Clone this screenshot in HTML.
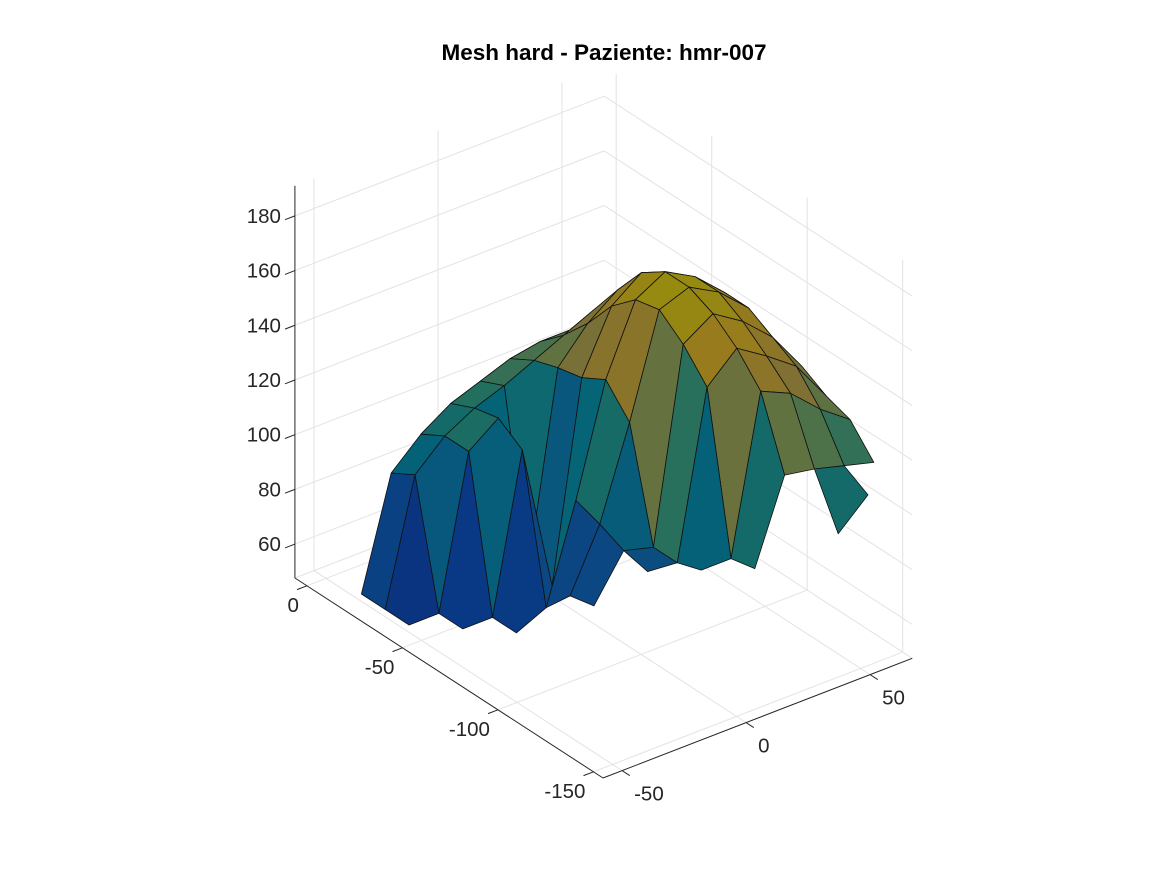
<!DOCTYPE html>
<html><head><meta charset="utf-8"><style>
body{margin:0;background:#fff;}
svg{display:block;font-family:"Liberation Sans",Arial,sans-serif;}
</style></head><body>
<svg id="chart" width="1167" height="875" viewBox="0 0 1167 875" xmlns="http://www.w3.org/2000/svg">
<rect width="1167" height="875" fill="#fff"/>
<text x="604" y="60" text-anchor="middle" font-size="22.5" font-weight="bold" fill="#000">Mesh hard - Paziente: hmr-007</text>
<g id="grid"></g>
<g id="surface"></g>
<g id="axes"></g>
</svg>
<script>
const xTicks = [0, -50, -100, -150];
const yTicks = [-50, 0, 50];
const zTicks = [60, 80, 100, 120, 140, 160, 180];
const xGrid = [0, -12.5, -25, -37.5, -50, -62.5, -75, -87.5, -100, -112.5, -125, -137.5, -150];
const yGrid = [-55, -43, -31, -19, -7, 5, 17, 29, 41, 53, 65];
const n = null;
const zRows = [
 [n, n, n, n, n, n, n, n, n, n, n],
 [n, n, 80, 92, 100, 105, 108, 105, n, n, n],
 [55, 95, 105, 112, 116, 120, 122, 122, 115, n, n],
 [55, 100, 110, 116, 120, 125, 130, 135, 130, n, n],
 [55, 55, 110, 118, 58, 128, 140, 148, 145, 135, n],
 [n, 55, 55, 112, 58, 130, 152, 160, 155, 145, n],
 [n, n, 55, 60, 95, 135, 160, 166, 160, 150, 125],
 [n, n, n, 70, 92, 125, 162, 166, 160, 150, 132],
 [n, n, n, 72, 88, 85, 155, 162, 155, 145, 130],
 [n, n, n, n, 86, 85, 145, 155, 148, 140, 125],
 [n, n, n, n, n, 88, 88, 145, 140, 130, 122],
 [n, n, n, n, n, n, 90, 120, 118, 115, 112],
 [n, n, n, n, n, n, n, n, 100, 110, n]
];
const lim = {xmin:-155, xmax:6.3, ymin:-57.7, ymax:67, zmin:47.6, zmax:191};
const O = [603, 778], EX = [-1.91, -1.24], EY = [2.48, -0.96], EZ = -2.735;
function P(x, y, z) {
  const a = x - lim.xmin, b = y - lim.ymin, c = z - lim.zmin;
  return [O[0] + a*EX[0] + b*EY[0], O[1] + a*EX[1] + b*EY[1] + c*EZ];
}
const NS = "http://www.w3.org/2000/svg";
function line(g, p, q, col, w, name) {
  const l = document.createElementNS(NS, "line");
  l.setAttribute("x1", p[0]); l.setAttribute("y1", p[1]);
  l.setAttribute("x2", q[0]); l.setAttribute("y2", q[1]);
  l.setAttribute("stroke", col); l.setAttribute("stroke-width", w);
  
  
  g.appendChild(l);
}
function text(g, x, y, s, anchor, name) {
  const t = document.createElementNS(NS, "text");
  t.setAttribute("x", x); t.setAttribute("y", y);
  t.setAttribute("text-anchor", anchor); t.setAttribute("font-size", "20.5");
  t.setAttribute("fill", "#262626"); t.textContent = s;
  
  
  g.appendChild(t);
}
const grid = document.getElementById("grid"), axes = document.getElementById("axes"), surf = document.getElementById("surface");
const GC = "#e3e3e3";
yTicks.forEach(y => line(grid, P(lim.xmax, y, lim.zmin), P(lim.xmax, y, lim.zmax), GC, 1, "grid-line-y"));
xTicks.forEach(x => line(grid, P(x, lim.ymax, lim.zmin), P(x, lim.ymax, lim.zmax), GC, 1, "grid-line-x"));
zTicks.forEach(z => {
  line(grid, P(lim.xmax, lim.ymin, z), P(lim.xmax, lim.ymax, z), GC, 1, "grid-line-z");
  line(grid, P(lim.xmax, lim.ymax, z), P(lim.xmin, lim.ymax, z), GC, 1, "grid-line-z");
});
xTicks.forEach(x => line(grid, P(x, lim.ymin, lim.zmin), P(x, lim.ymax, lim.zmin), GC, 1, "floor-grid-x"));
yTicks.forEach(y => line(grid, P(lim.xmin, y, lim.zmin), P(lim.xmax, y, lim.zmin), GC, 1, "floor-grid-y"));
line(grid, P(lim.xmax, lim.ymax, lim.zmin), P(lim.xmax, lim.ymin, lim.zmin), GC, 1, "floor-edge");
line(grid, P(lim.xmax, lim.ymax, lim.zmin), P(lim.xmin, lim.ymax, lim.zmin), GC, 1, "floor-edge");
const stops = [[0,[53,42,135]],[0.15,[15,92,221]],[0.3,[20,129,214]],[0.45,[6,167,198]],[0.55,[56,185,158]],[0.65,[146,191,115]],[0.75,[217,186,86]],[0.87,[252,206,46]],[1,[249,251,14]]];
function parula(t) {
  t = Math.max(0, Math.min(1, t));
  for (let i = 1; i < stops.length; i++) {
    if (t <= stops[i][0]) {
      const [t0, c0] = stops[i-1], [t1, c1] = stops[i], f = (t - t0)/(t1 - t0);
      return c0.map((v, k) => Math.round((v + (c1[k]-v)*f)*0.6));
    }
  }
  return stops[stops.length-1][1].map(v => Math.round(v*0.6));
}
const quads = [];
for (let i = 0; i < xGrid.length - 1; i++) for (let j = 0; j < yGrid.length - 1; j++) {
  const zs = [zRows[i][j], zRows[i][j+1], zRows[i+1][j+1], zRows[i+1][j]];
  if (zs.some(v => v === null)) continue;
  const pts = [P(xGrid[i], yGrid[j], zs[0]), P(xGrid[i], yGrid[j+1], zs[1]), P(xGrid[i+1], yGrid[j+1], zs[2]), P(xGrid[i+1], yGrid[j], zs[3])];
  const xc = (xGrid[i]+xGrid[i+1])/2, yc = (yGrid[j]+yGrid[j+1])/2;
  const depth = (xc - lim.xmin)*1.24 + (yc - lim.ymin)*0.96;
  quads.push({pts, zavg: (zs[0]+zs[1]+zs[2]+zs[3])/4, depth});
}
quads.sort((a, b) => b.depth - a.depth);
quads.forEach(q => {
  const c = parula((q.zavg - 50)/120);
  const pg = document.createElementNS(NS, "polygon");
  pg.setAttribute("points", q.pts.map(p => p[0].toFixed(1)+","+p[1].toFixed(1)).join(" "));
  pg.setAttribute("fill", `rgb(${c})`);
  pg.setAttribute("stroke", "#111");
  pg.setAttribute("stroke-width", "0.8");
  pg.setAttribute("stroke-linejoin", "round");
  
  
  surf.appendChild(pg);
});
const AC = "#262626";
line(axes, P(lim.xmax, lim.ymin, lim.zmin), P(lim.xmax, lim.ymin, lim.zmax), AC, 1, "z-axis");
line(axes, P(lim.xmin, lim.ymin, lim.zmin), P(lim.xmax, lim.ymin, lim.zmin), AC, 1, "x-axis");
line(axes, P(lim.xmin, lim.ymin, lim.zmin), P(lim.xmin, lim.ymax, lim.zmin), AC, 1, "y-axis");
zTicks.forEach(z => {
  const p = P(lim.xmax, lim.ymin, z);
  line(axes, p, P(lim.xmax, lim.ymin - 4, z), AC, 1, "z-tick");
  text(axes, p[0] - 14, p[1] + 7, String(z), "end", "z-tick-label");
});
xTicks.forEach(x => {
  const p = P(x, lim.ymin, lim.zmin);
  line(axes, p, P(x, lim.ymin - 4, lim.zmin), AC, 1, "x-tick");
  text(axes, p[0] - 8, p[1] + 26, String(x), "end", "x-tick-label");
});
yTicks.forEach(y => {
  const p = P(lim.xmin, y, lim.zmin);
  line(axes, p, P(lim.xmin - 4, y, lim.zmin), AC, 1, "y-tick");
  text(axes, p[0] + 12, p[1] + 30, String(y), "start", "y-tick-label");
});
</script>
</body></html>
